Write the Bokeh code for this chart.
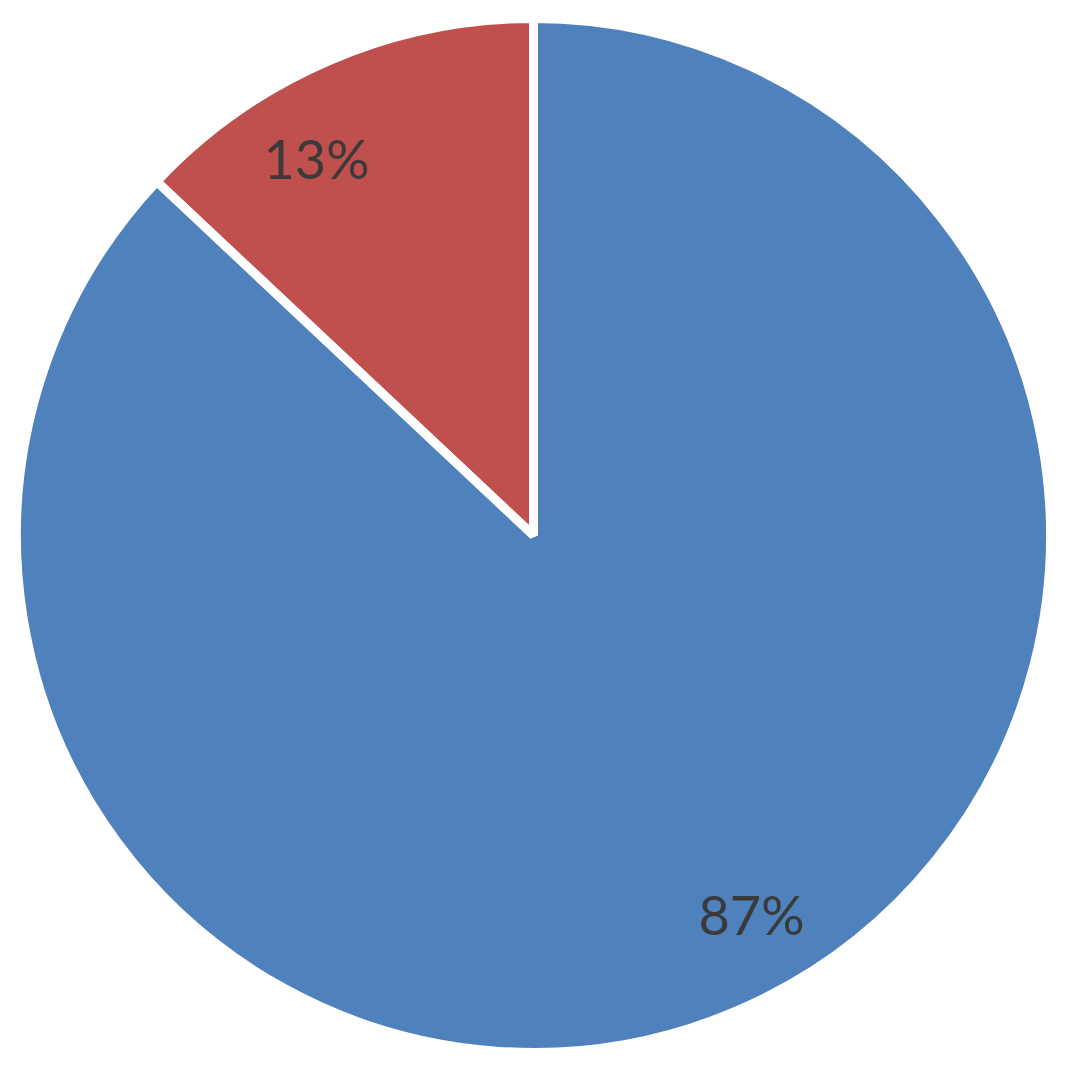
import math
from bokeh.plotting import figure
from bokeh.models import Range1d, ColumnDataSource
from bokeh.core.properties import value
from bokeh.embed import file_html
from bokeh.resources import INLINE

categories = ["A", "B"]
shares = [13, 87]
colors = ["#C0504D", "#4F81BD"]

W, H = 1049, 1055
cx, cy = 533, H - 535
R = 517

p = figure(width=W, height=H, output_backend="svg", toolbar_location=None,
           x_range=Range1d(0, W), y_range=Range1d(0, H), min_border=0)
p.axis.visible = False
p.grid.visible = False
p.outline_line_color = None
p.background_fill_color = "white"

total = sum(shares)
starts, ends, labels = [], [], []
a = math.pi / 2
for i, s in enumerate(shares):
    sweep = 2 * math.pi * s / total
    starts.append(a)
    ends.append(a + sweep)
    labels.append(f"{s}%")
    a += sweep

src = ColumnDataSource(dict(start=starts, end=ends, color=colors, cat=categories))
p.wedge(x=cx, y=cy, radius=R, start_angle="start", end_angle="end",
        fill_color="color", line_color="white", line_width=9, source=src)

lab_src = ColumnDataSource(dict(x=[316, 751], y=[H - 158, H - 914], text=labels))
p.text(x="x", y="y", text="text", source=lab_src, text_align="center",
       text_baseline="middle", text_font=value("Lato"),
       text_font_size="54px", text_color="#3a3a3a")

open("out.html", "w").write(file_html(p, INLINE))
